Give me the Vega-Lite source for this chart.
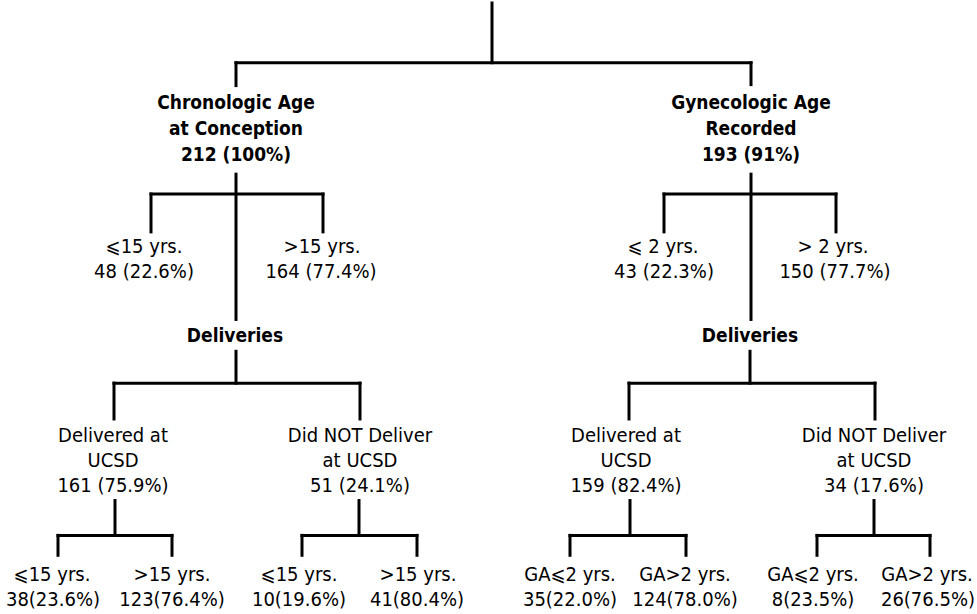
{
  "$schema": "https://vega.github.io/schema/vega-lite/v6.json",
  "width": 977,
  "height": 614,
  "autosize": {"type": "fit", "contains": "padding"},
  "padding": 0,
  "background": "white",
  "config": {"view": {"stroke": null}},
  "datasets": {
    "edges": [
      {"x": 492, "y": 0, "x2": 492, "y2": 60},
      {"x": 236, "y": 60, "x2": 751, "y2": 60},
      {"x": 236, "y": 60, "x2": 236, "y2": 83},
      {"x": 751, "y": 60, "x2": 751, "y2": 82},
      {"x": 236, "y": 172, "x2": 236, "y2": 318},
      {"x": 151, "y": 192, "x2": 323, "y2": 192},
      {"x": 151, "y": 192, "x2": 151, "y2": 230},
      {"x": 323, "y": 192, "x2": 323, "y2": 230},
      {"x": 236, "y": 350, "x2": 236, "y2": 382},
      {"x": 114, "y": 382, "x2": 360, "y2": 382},
      {"x": 114, "y": 382, "x2": 114, "y2": 418},
      {"x": 360, "y": 382, "x2": 360, "y2": 418},
      {"x": 115, "y": 500, "x2": 115, "y2": 535},
      {"x": 58, "y": 535, "x2": 172, "y2": 535},
      {"x": 58, "y": 535, "x2": 58, "y2": 555},
      {"x": 172, "y": 535, "x2": 172, "y2": 555},
      {"x": 359, "y": 500, "x2": 359, "y2": 535},
      {"x": 302, "y": 535, "x2": 417, "y2": 535},
      {"x": 302, "y": 535, "x2": 302, "y2": 555},
      {"x": 417, "y": 535, "x2": 417, "y2": 555},
      {"x": 751, "y": 172, "x2": 751, "y2": 318},
      {"x": 664, "y": 192, "x2": 836, "y2": 192},
      {"x": 664, "y": 192, "x2": 664, "y2": 230},
      {"x": 836, "y": 192, "x2": 836, "y2": 230},
      {"x": 750, "y": 350, "x2": 750, "y2": 382},
      {"x": 629, "y": 382, "x2": 875, "y2": 382},
      {"x": 629, "y": 382, "x2": 629, "y2": 418},
      {"x": 875, "y": 382, "x2": 875, "y2": 418},
      {"x": 630, "y": 500, "x2": 630, "y2": 535},
      {"x": 570, "y": 535, "x2": 686, "y2": 535},
      {"x": 570, "y": 535, "x2": 570, "y2": 555},
      {"x": 686, "y": 535, "x2": 686, "y2": 555},
      {"x": 874, "y": 500, "x2": 874, "y2": 535},
      {"x": 817, "y": 535, "x2": 930, "y2": 535},
      {"x": 817, "y": 535, "x2": 817, "y2": 555},
      {"x": 930, "y": 535, "x2": 930, "y2": 555}
    ],
    "labels": [
      {"x": 236, "y": 100, "text": "Chronologic Age", "kind": "heading"},
      {"x": 236, "y": 127, "text": "at Conception", "kind": "heading"},
      {"x": 236, "y": 153, "text": "212 (100%)", "kind": "heading"},
      {"x": 751, "y": 100, "text": "Gynecologic Age", "kind": "heading"},
      {"x": 751, "y": 127, "text": "Recorded", "kind": "heading"},
      {"x": 751, "y": 153, "text": "193 (91%)", "kind": "heading"},
      {"x": 235, "y": 335, "text": "Deliveries", "kind": "heading"},
      {"x": 750, "y": 335, "text": "Deliveries", "kind": "heading"},
      {"x": 144, "y": 245, "text": "⩽15 yrs.", "kind": "count"},
      {"x": 144, "y": 270, "text": "48 (22.6%)", "kind": "count"},
      {"x": 322, "y": 245, "text": ">15 yrs.", "kind": "count"},
      {"x": 321, "y": 270, "text": "164 (77.4%)", "kind": "count"},
      {"x": 663, "y": 245, "text": "⩽ 2 yrs.", "kind": "count"},
      {"x": 664, "y": 270, "text": "43 (22.3%)", "kind": "count"},
      {"x": 833, "y": 245, "text": "> 2 yrs.", "kind": "count"},
      {"x": 835, "y": 270, "text": "150 (77.7%)", "kind": "count"},
      {"x": 113, "y": 435, "text": "Delivered at", "kind": "count"},
      {"x": 113, "y": 460, "text": "UCSD", "kind": "count"},
      {"x": 113, "y": 485, "text": "161 (75.9%)", "kind": "count"},
      {"x": 360, "y": 435, "text": "Did NOT Deliver", "kind": "count"},
      {"x": 360, "y": 460, "text": "at UCSD", "kind": "count"},
      {"x": 360, "y": 485, "text": "51 (24.1%)", "kind": "count"},
      {"x": 626, "y": 435, "text": "Delivered at", "kind": "count"},
      {"x": 626, "y": 460, "text": "UCSD", "kind": "count"},
      {"x": 626, "y": 485, "text": "159 (82.4%)", "kind": "count"},
      {"x": 874, "y": 435, "text": "Did NOT Deliver", "kind": "count"},
      {"x": 874, "y": 460, "text": "at UCSD", "kind": "count"},
      {"x": 874, "y": 485, "text": "34 (17.6%)", "kind": "count"},
      {"x": 52, "y": 575, "text": "⩽15 yrs.", "kind": "count"},
      {"x": 53, "y": 600, "text": "38(23.6%)", "kind": "count"},
      {"x": 172, "y": 575, "text": ">15 yrs.", "kind": "count"},
      {"x": 172, "y": 600, "text": "123(76.4%)", "kind": "count"},
      {"x": 299, "y": 575, "text": "⩽15 yrs.", "kind": "count"},
      {"x": 299, "y": 600, "text": "10(19.6%)", "kind": "count"},
      {"x": 418, "y": 575, "text": ">15 yrs.", "kind": "count"},
      {"x": 417, "y": 600, "text": "41(80.4%)", "kind": "count"},
      {"x": 570, "y": 575, "text": "GA⩽2 yrs.", "kind": "count"},
      {"x": 570, "y": 600, "text": "35(22.0%)", "kind": "count"},
      {"x": 685, "y": 575, "text": "GA>2 yrs.", "kind": "count"},
      {"x": 685, "y": 600, "text": "124(78.0%)", "kind": "count"},
      {"x": 813, "y": 575, "text": "GA⩽2 yrs.", "kind": "count"},
      {"x": 813, "y": 600, "text": "8(23.5%)", "kind": "count"},
      {"x": 927, "y": 575, "text": "GA>2 yrs.", "kind": "count"},
      {"x": 928, "y": 600, "text": "26(76.5%)", "kind": "count"}
    ]
  },
  "layer": [
    {
      "data": {"name": "edges"},
      "mark": {"type": "rule", "color": "black", "strokeWidth": 3, "strokeCap": "square"},
      "encoding": {
        "x": {"field": "x", "type": "quantitative", "scale": {"domain": [0, 977], "nice": false, "zero": false}, "axis": null},
        "y": {"field": "y", "type": "quantitative", "scale": {"domain": [0, 614], "nice": false, "zero": false, "reverse": true}, "axis": null},
        "x2": {"field": "x2"},
        "y2": {"field": "y2"}
      }
    },
    {
      "data": {"name": "labels"},
      "transform": [{"filter": "datum.kind === 'heading'"}],
      "mark": {"type": "text", "align": "center", "baseline": "middle", "font": "DejaVu Sans Condensed, Liberation Sans, sans-serif", "fontSize": 19, "fontWeight": "bold", "color": "black"},
      "encoding": {
        "x": {"field": "x", "type": "quantitative"},
        "y": {"field": "y", "type": "quantitative"},
        "text": {"field": "text"}
      }
    },
    {
      "data": {"name": "labels"},
      "transform": [{"filter": "datum.kind === 'count'"}],
      "mark": {"type": "text", "align": "center", "baseline": "middle", "font": "DejaVu Sans Condensed, Liberation Sans, sans-serif", "fontSize": 20, "color": "black"},
      "encoding": {
        "x": {"field": "x", "type": "quantitative"},
        "y": {"field": "y", "type": "quantitative"},
        "text": {"field": "text"}
      }
    }
  ]
}
